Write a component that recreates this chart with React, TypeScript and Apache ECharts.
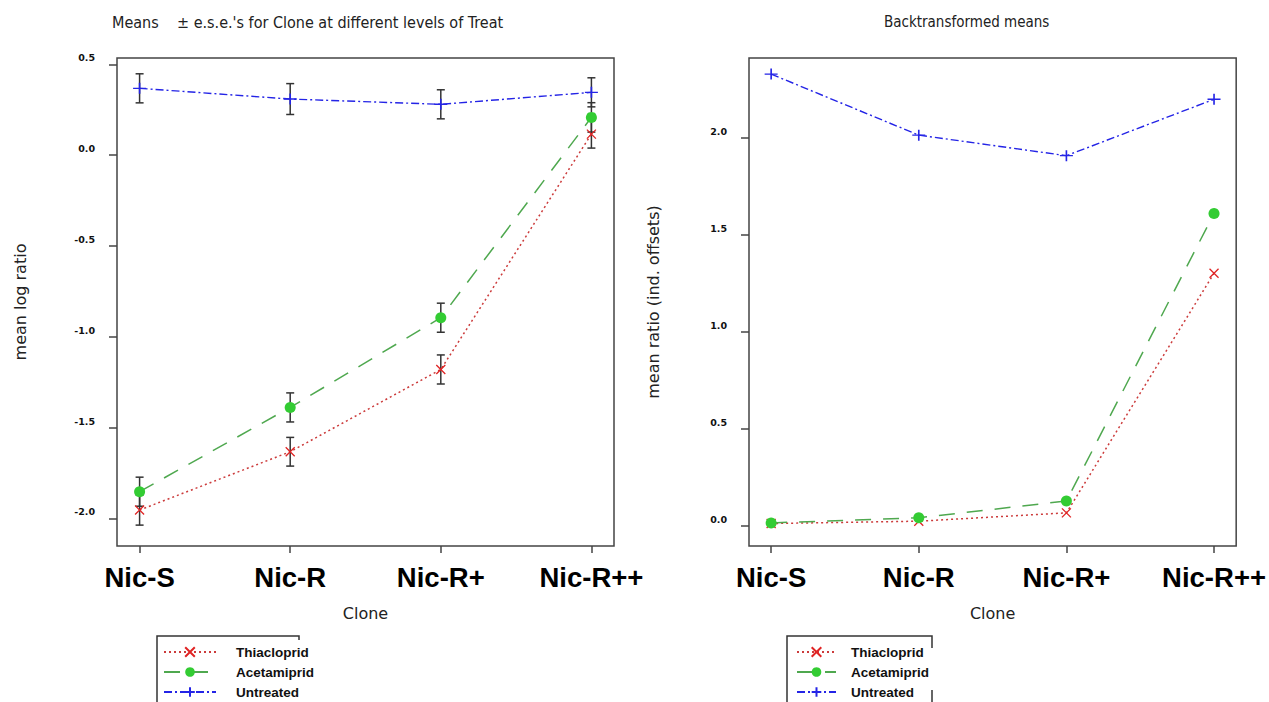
import React, { useEffect, useRef } from 'react';
import * as echarts from 'echarts';

// ---- data ----
const clones = ['Nic-S', 'Nic-R', 'Nic-R+', 'Nic-R++'];
const treatments = ['Thiacloprid', 'Acetamiprid', 'Untreated'];

// left panel: mean log ratio with e.s.e.
const thiaLog = [-1.954, -1.633, -1.18, 0.116];
const thiaSe = [0.083, 0.079, 0.08, 0.077];
const acetLog = [-1.853, -1.389, -0.895, 0.208];
const acetSe = [0.08, 0.08, 0.08, 0.081];
const untrLog = [0.368, 0.309, 0.28, 0.346];
const untrSe = [0.08, 0.085, 0.08, 0.08];

// right panel: backtransformed means
const thiaBack = [0.011, 0.023, 0.066, 1.302];
const acetBack = [0.014, 0.041, 0.127, 1.611];
const untrBack = [2.33, 2.015, 1.909, 2.2];

const leftTicks = [-2.0, -1.5, -1.0, -0.5, 0.0, 0.5];
const rightTicks = [0.0, 0.5, 1.0, 1.5, 2.0];
const xTicks = [0, 1, 2, 3];

const X_SYMBOL = 'path://M0,0L10,10M10,0L0,10';
const PLUS_SYMBOL = 'path://M5,0L5,10M0,5L10,5';

const RED_LINE = '#cc3b3b';
const RED_MARK = '#e02424';
const GREEN_LINE = '#4fa84f';
const GREEN_MARK = '#33cc33';
const BLUE = '#2424e6';
const FRAME = '#444';

const styles: Record<string, any> = {
  Thiacloprid: {
    symbol: X_SYMBOL,
    symbolSize: 9,
    lineStyle: { color: RED_LINE, width: 1.5, type: [2, 3] },
    itemStyle: { color: RED_MARK, borderColor: RED_MARK, borderWidth: 1.3 },
  },
  Acetamiprid: {
    symbol: 'circle',
    symbolSize: 11,
    lineStyle: { color: GREEN_LINE, width: 1.5, type: [16, 12] },
    itemStyle: { color: GREEN_MARK, borderWidth: 0 },
  },
  Untreated: {
    symbol: PLUS_SYMBOL,
    symbolSize: [13, 11],
    lineStyle: { color: BLUE, width: 1.4, type: [8, 3, 2, 3] },
    itemStyle: { color: BLUE, borderColor: BLUE, borderWidth: 1.5 },
  },
};

function line(name: string, values: number[], idx: number) {
  return {
    type: 'line',
    name,
    xAxisIndex: idx,
    yAxisIndex: idx,
    data: values.map((v, i) => [i, v]),
    z: 3,
    ...styles[name],
  };
}

function errBars(values: number[], se: number[]) {
  return {
    type: 'custom',
    name: 'ese',
    xAxisIndex: 0,
    yAxisIndex: 0,
    silent: true,
    z: 2,
    data: values.map((v, i) => [i, v, se[i]]),
    encode: { x: 0, y: 1 },
    renderItem: (_p: any, api: any) => {
      const x = api.value(0);
      const m = api.value(1);
      const s = api.value(2);
      const t = api.coord([x, m + s]);
      const b = api.coord([x, m - s]);
      const hw = 4;
      const st = { stroke: '#333', lineWidth: 1.5 };
      return {
        type: 'group',
        children: [
          { type: 'line', shape: { x1: t[0], y1: t[1], x2: b[0], y2: b[1] }, style: st },
          { type: 'line', shape: { x1: t[0] - hw, y1: t[1], x2: t[0] + hw, y2: t[1] }, style: st },
          { type: 'line', shape: { x1: b[0] - hw, y1: b[1], x2: b[0] + hw, y2: b[1] }, style: st },
        ],
      };
    },
  };
}

const tickFont = { fontFamily: 'DejaVu Sans', fontWeight: 'bold', fontSize: 9.5, color: '#111' };
const nameFont = { fontFamily: 'DejaVu Sans', fontSize: 16, color: '#222' };
const catFont = { fontFamily: 'Liberation Sans, Arial, sans-serif', fontWeight: 'bold', fontSize: 27.5, color: '#000' };
const titleFont = {
  fontFamily: "'Liberation Sans Narrow', 'DejaVu Sans Condensed', 'DejaVu Sans', sans-serif",
  fontWeight: 'normal',
  color: '#222',
};

function xAxis(idx: number) {
  return {
    type: 'value',
    gridIndex: idx,
    min: -0.15,
    max: 3.15,
    name: 'Clone',
    nameLocation: 'middle',
    nameGap: 59,
    nameTextStyle: nameFont,
    axisLine: { show: false, onZero: false },
    splitLine: { show: false },
    axisTick: { show: true, length: 7, customValues: xTicks, lineStyle: { color: FRAME, width: 1.5 } },
    axisLabel: {
      customValues: xTicks,
      margin: 17,
      formatter: (v: number) => clones[Math.round(v)] ?? '',
      ...catFont,
    },
  };
}

function yAxis(idx: number, min: number, max: number, ticks: number[], name: string, gap: number) {
  return {
    type: 'value',
    gridIndex: idx,
    min,
    max,
    name,
    nameLocation: 'middle',
    nameGap: gap,
    nameTextStyle: nameFont,
    axisLine: { show: false, onZero: false },
    splitLine: { show: false },
    axisTick: { show: true, length: 8, customValues: ticks, lineStyle: { color: FRAME, width: 1.5 } },
    axisLabel: {
      customValues: ticks,
      margin: 22,
      verticalAlign: 'bottom',
      lineHeight: 11,
      padding: [0, 0, 1, 0],
      formatter: (v: number) => v.toFixed(1),
      ...tickFont,
    },
  };
}

export default function App() {
  const ref = useRef<HTMLDivElement>(null);
  useEffect(() => {
    if (!ref.current) return;
    const chart = echarts.init(ref.current, undefined, { renderer: 'svg' });
    const legendText = {
      fontFamily: 'Liberation Sans, Arial, sans-serif',
      fontWeight: 'bold',
      fontSize: 13.5,
      lineHeight: 12,
      color: '#111',
    };
    const legendBase = {
      data: treatments,
      orient: 'vertical',
      top: 645,
      height: 200,
      itemHeight: 12,
      itemGap: 6,
      padding: 0,
      selectedMode: false,
    };
    chart.setOption({
      animation: false,
      backgroundColor: '#fff',
      title: [
        { text: "Means    \u00b1 e.s.e.'s for Clone at different levels of Treat", left: 112, top: 14, padding: 0, textStyle: { ...titleFont, fontSize: 16 } },
        { text: 'Backtransformed means', left: 884, top: 14, padding: 0, textStyle: { ...titleFont, fontSize: 15 } },
      ],
      grid: [
        { left: 117, right: 1269 - 614, top: 58, bottom: 702 - 546, show: true, borderColor: FRAME, borderWidth: 1.5, backgroundColor: 'transparent' },
        { left: 749, right: 1269 - 1244, top: 58, bottom: 702 - 546, show: true, borderColor: FRAME, borderWidth: 1.5, backgroundColor: 'transparent' },
      ],
      xAxis: [xAxis(0), xAxis(1)],
      yAxis: [
        yAxis(0, -2.152, 0.535, leftTicks, 'mean log ratio', 89),
        yAxis(1, -0.105, 2.413, rightTicks, 'mean ratio (ind. offsets)', 88),
      ],
      legend: [
        {
          ...legendBase,
          left: 163,
          itemWidth: 52,
          textStyle: { ...legendText, padding: [0, 0, 0, 15] },
        },
        {
          ...legendBase,
          left: 796,
          itemWidth: 39,
          textStyle: { ...legendText, padding: [0, 0, 0, 10] },
        },
      ],
      graphic: [
        { type: 'polyline', shape: { points: [[157, 702], [157, 636], [299, 636], [299, 640]] }, style: { stroke: '#333', lineWidth: 1.5, fill: 'none' } },
        { type: 'polyline', shape: { points: [[787, 702], [787, 636], [932, 636], [932, 648]] }, style: { stroke: '#333', lineWidth: 1.5, fill: 'none' } },
        { type: 'line', shape: { x1: 932, y1: 690, x2: 932, y2: 702 }, style: { stroke: '#333', lineWidth: 1.5 } },
      ],
      series: [
        errBars(thiaLog, thiaSe),
        errBars(acetLog, acetSe),
        errBars(untrLog, untrSe),
        line('Thiacloprid', thiaLog, 0),
        line('Acetamiprid', acetLog, 0),
        line('Untreated', untrLog, 0),
        line('Thiacloprid', thiaBack, 1),
        line('Acetamiprid', acetBack, 1),
        line('Untreated', untrBack, 1),
      ],
    });
    return () => chart.dispose();
  }, []);
  return (
    <div
      ref={ref}
      style={{ position: 'fixed', left: 0, top: 0, width: 1269, height: 702, background: '#fff' }}
    />
  );
}
